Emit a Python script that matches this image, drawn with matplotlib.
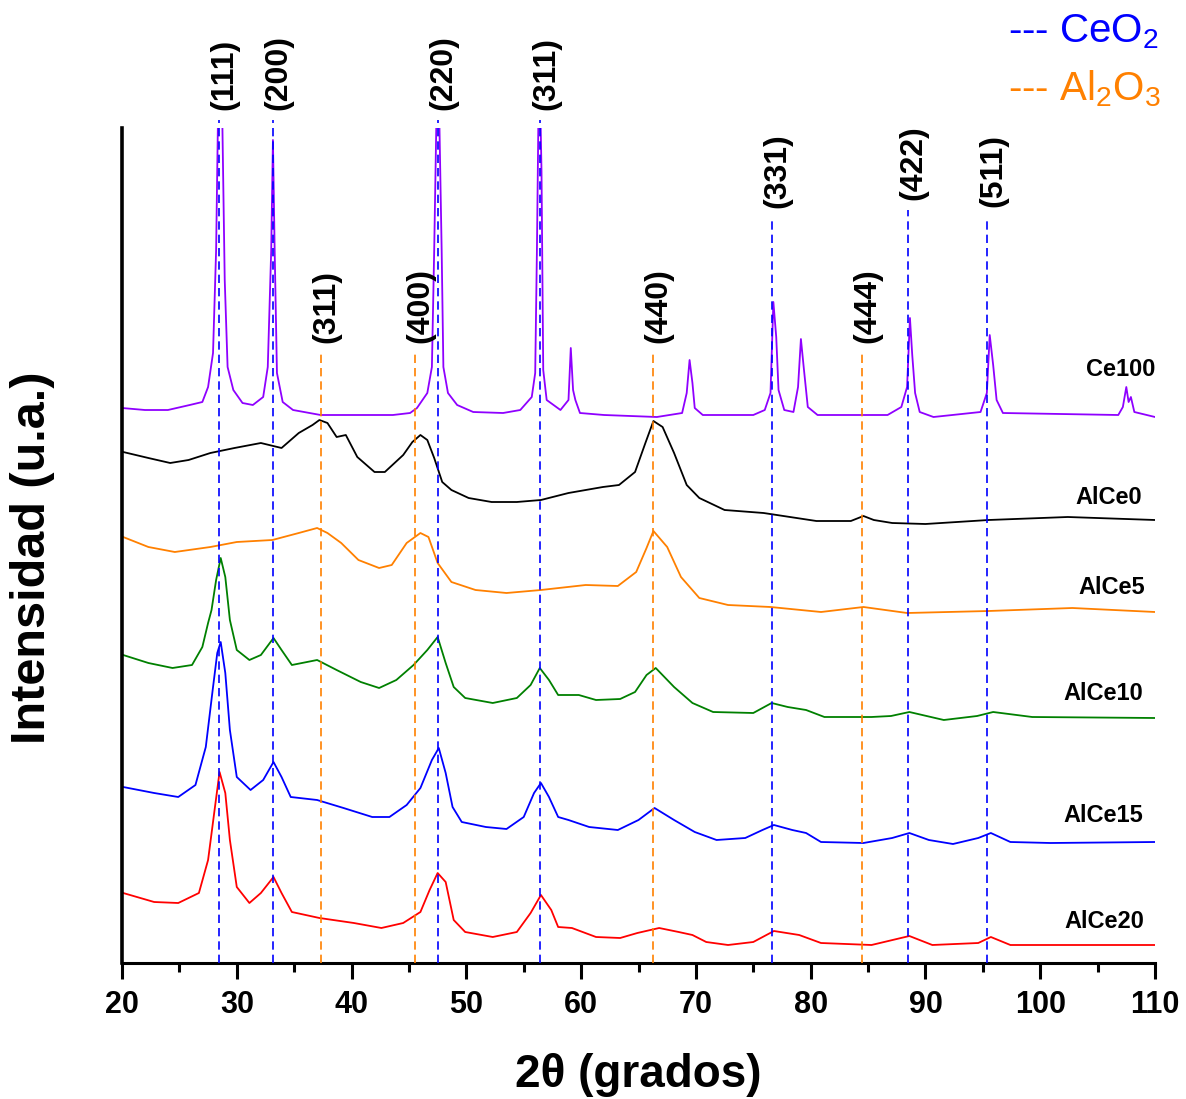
import matplotlib
matplotlib.use('Agg')
import matplotlib.pyplot as plt
from matplotlib.ticker import MultipleLocator

plt.rcParams['font.family'] = ['Liberation Sans', 'DejaVu Sans']
plt.rcParams['mathtext.fontset'] = 'custom'
plt.rcParams['mathtext.rm'] = 'Liberation Sans'
plt.rcParams['mathtext.it'] = 'Liberation Sans:italic'
plt.rcParams['mathtext.bf'] = 'Liberation Sans:bold'

# ---------------- data (2theta in degrees, intensity in a.u., stacked) ----------------
tt_ce100 = [20, 22, 24, 25.9, 27.0, 27.5, 27.93, 28.2, 28.35, 28.55, 28.75, 28.95, 29.2, 29.7,
            30.5, 31.4, 32.3, 32.7, 33.0, 33.15, 33.3, 33.5, 34.0, 34.9, 37.3, 40.0, 43.6, 45.1,
            45.7, 46.6, 47.0, 47.2, 47.38, 47.52, 47.66, 47.85, 48.0, 48.4, 49.2, 50.6, 53.2, 54.7,
            55.7, 56.0, 56.15, 56.27, 56.37, 56.48, 56.55, 56.7, 57.0, 58.2, 58.9, 59.1, 59.3, 59.5,
            59.9, 62.0, 66.6, 68.8, 69.2, 69.45, 69.7, 69.9, 70.6, 75.0, 76.0, 76.5, 76.75, 77.0,
            77.2, 77.7, 78.5, 78.9, 79.15, 79.4, 79.75, 80.6, 86.7, 87.9, 88.4, 88.65, 88.85, 89.1,
            89.5, 90.7, 94.8, 95.35, 95.6, 95.9, 96.2, 96.75, 106.8, 107.2, 107.5, 107.7, 107.9,
            108.2, 110]
i_ce100 = [555, 553, 553, 558, 561, 576, 610, 713, 835, 1100, 835, 683, 596, 573,
           560, 558, 566, 596, 713, 823, 713, 590, 561, 553, 548, 548, 548, 550,
           555, 570, 596, 713, 835, 1100, 835, 713, 596, 570, 558, 551, 550, 553,
           566, 590, 713, 835, 1000, 835, 791, 593, 563, 553, 563, 615, 573, 563,
           550, 548, 546, 550, 570, 603, 580, 555, 548, 548, 553, 570, 661, 626,
           573, 553, 551, 576, 624, 595, 556, 548, 548, 556, 576, 645, 608, 570,
           551, 546, 551, 570, 628, 598, 563, 550, 548, 556, 576, 561, 566,
           551, 546]

tt_alce0 = [20.1, 22.3, 24.2, 25.8, 27.7, 29.8, 32.1, 33.9, 35.4, 36.6, 37.2, 37.9, 38.7, 39.5,
            40.5, 42.0, 42.9, 44.5, 45.3, 46.0, 46.6, 47.2, 47.9, 48.7, 50.2, 52.2, 54.4, 56.5,
            58.9, 61.9, 63.3, 64.7, 65.6, 66.3, 67.1, 68.1, 69.2, 70.3, 72.5, 75.9, 80.5, 83.5,
            84.6, 85.5, 87.1, 90.0, 95.5, 102.4, 110]
i_alce0 = [511, 505, 500, 503, 510, 515, 520, 515, 530, 538, 543, 540, 526, 528,
           506, 491, 491, 508, 521, 528, 523, 505, 481, 473, 465, 461, 461, 463,
           470, 476, 478, 491, 520, 542, 536, 510, 478, 465, 453, 450, 442, 442,
           447, 443, 440, 439, 443, 446, 443]

tt_alce5 = [20.1, 22.3, 24.6, 27.7, 30.0, 33.1, 35.4, 37.0, 37.9, 39.1, 40.6, 42.4, 43.5, 44.8,
            46.0, 46.7, 47.5, 48.7, 50.8, 53.5, 56.5, 60.4, 63.2, 64.8, 65.7, 66.3, 67.5, 68.7,
            70.3, 72.8, 76.5, 80.9, 84.6, 88.4, 95.5, 102.8, 110]
i_alce5 = [426, 416, 411, 416, 421, 423, 430, 435, 430, 420, 403, 395, 398, 420,
           430, 426, 400, 381, 373, 370, 373, 378, 377, 391, 415, 432, 416, 386,
           365, 358, 356, 351, 356, 350, 352, 355, 351]

tt_alce10 = [20.1, 22.3, 24.4, 26.1, 27.0, 27.5, 27.8, 28.2, 28.6, 29.0, 29.4, 30.0, 31.1, 32.1,
             33.2, 33.9, 34.8, 37.0, 38.7, 40.8, 42.4, 43.9, 45.4, 46.6, 47.5, 48.2, 48.9, 49.9,
             52.3, 54.4, 55.6, 56.4, 57.2, 58.0, 59.8, 61.3, 63.4, 64.7, 65.7, 66.5, 68.1, 69.7,
             71.5, 75.0, 76.6, 78.0, 79.6, 81.2, 85.3, 87.0, 88.6, 91.6, 94.5, 95.9, 99.3, 110]
i_alce10 = [308, 300, 295, 298, 316, 340, 353, 383, 405, 386, 343, 313, 303, 308,
            325, 313, 298, 303, 293, 281, 275, 283, 298, 313, 326, 300, 276, 265,
            260, 265, 278, 295, 283, 268, 268, 263, 264, 271, 288, 295, 276, 260,
            251, 250, 260, 256, 253, 246, 246, 247, 251, 243, 247, 251, 246, 245]

tt_alce15 = [20.1, 22.8, 24.9, 26.4, 27.3, 27.9, 28.3, 28.6, 29.0, 29.4, 30.0, 31.2, 32.3, 33.2,
             33.9, 34.7, 37.0, 39.3, 41.8, 43.3, 44.8, 46.0, 47.0, 47.6, 48.2, 48.8, 49.6, 51.7,
             53.5, 55.0, 55.9, 56.5, 57.2, 58.0, 58.9, 60.7, 63.2, 65.0, 66.4, 68.1, 69.9, 71.8,
             74.3, 75.8, 76.8, 78.4, 79.6, 80.9, 84.6, 87.1, 88.6, 90.3, 92.4, 94.6, 95.7, 97.4,
             100.9, 110]
i_alce15 = [176, 170, 166, 178, 216, 273, 310, 321, 290, 233, 186, 173, 183, 201,
            186, 166, 163, 155, 146, 146, 158, 175, 203, 215, 190, 156, 141, 136,
            134, 146, 170, 180, 166, 146, 143, 136, 133, 143, 155, 143, 131, 123,
            125, 133, 138, 133, 130, 121, 120, 125, 130, 123, 119, 125, 130, 121,
            120, 121]

tt_alce20 = [20.1, 22.8, 24.9, 26.7, 27.5, 28.1, 28.5, 29.0, 29.4, 30.0, 31.1, 32.1, 33.2, 33.9,
             34.8, 37.2, 40.2, 42.6, 44.5, 46.0, 46.8, 47.5, 48.2, 48.9, 49.9, 52.3, 54.4, 55.6,
             56.5, 57.4, 58.0, 59.2, 61.3, 63.4, 64.9, 66.8, 68.5, 69.7, 70.9, 72.8, 75.0, 76.8,
             79.0, 80.9, 85.3, 88.6, 90.6, 94.6, 95.7, 97.4, 104.0, 110]
i_alce20 = [70, 61, 60, 70, 103, 156, 191, 170, 123, 76, 60, 70, 86, 70,
            51, 45, 40, 35, 40, 51, 73, 90, 81, 43, 31, 26, 31, 50,
            68, 53, 36, 35, 26, 25, 30, 35, 31, 28, 21, 18, 21, 32,
            28, 20, 18, 27, 18, 20, 26, 18, 18, 18]

series_names = ['Ce100', 'AlCe0', 'AlCe5', 'AlCe10', 'AlCe15', 'AlCe20']

# reference reflections
ceo2_pos = [28.45, 33.16, 47.55, 56.45, 76.6, 88.5, 95.4]
ceo2_hkl = ['(111)', '(200)', '(220)', '(311)', '(331)', '(422)', '(511)']
al2o3_pos = [37.34, 45.53, 66.26, 84.47]
al2o3_hkl = ['(311)', '(400)', '(440)', '(444)']

# ---------------- figure ----------------
W, H = 1186, 1099
fig = plt.figure(figsize=(W / 100, H / 100), dpi=100)
ax = fig.add_axes([122 / W, 136 / H, 1033 / W, 835 / H])

xs = [tt_ce100, tt_alce0, tt_alce5, tt_alce10, tt_alce15, tt_alce20]
ys = [i_ce100, i_alce0, i_alce5, i_alce10, i_alce15, i_alce20]
colors = ['#8F00FF', '#000000', '#FF8000', '#008000', '#0000FF', '#FF0000']
label_y = [594, 466, 376, 269, 147, 41]
label_x = [110.0, 108.9, 109.1, 109.0, 109.0, 109.1]

for x, y, c in zip(xs, ys, colors):
    ax.plot(x, y, color=c, lw=1.3, zorder=2, solid_joinstyle='round')

for name, lx, ly in zip(series_names, label_x, label_y):
    ax.text(lx, ly, name, ha='right', va='center', fontsize=17, fontweight='bold', zorder=5)

# dashed reference lines
ceo2_top = [843, 843, 843, 843, 745, 753, 746]
for pos, hkl, top in zip(ceo2_pos, ceo2_hkl, ceo2_top):
    ax.plot([pos, pos], [0, top], color='#0000FF', lw=1.2, dashes=(5, 3), zorder=3, clip_on=False)
    ax.annotate(hkl, xy=(pos, top), xytext=(4, 7), textcoords='offset points',
                rotation=90, ha='center', va='bottom', fontsize=23, fontweight='bold',
                annotation_clip=False)
for pos, hkl in zip(al2o3_pos, al2o3_hkl):
    top = 610
    ax.plot([pos, pos], [0, top], color='#FF8000', lw=1.2, dashes=(5, 3), zorder=3, clip_on=False)
    ax.annotate(hkl, xy=(pos, top), xytext=(4, 7), textcoords='offset points',
                rotation=90, ha='center', va='bottom', fontsize=23, fontweight='bold',
                annotation_clip=False)

ax.set_xlim(20, 110)
ax.set_ylim(0, 835)
ax.set_yticks([])
ax.xaxis.set_major_locator(MultipleLocator(10))
ax.xaxis.set_minor_locator(MultipleLocator(5))
ax.tick_params(axis='x', which='major', direction='out', length=11.5, width=2.2,
               labelsize=22, pad=8)
ax.tick_params(axis='x', which='minor', direction='out', length=6.5, width=2.2)
for lab in ax.get_xticklabels():
    lab.set_fontweight('bold')
for s in ['top', 'right']:
    ax.spines[s].set_visible(False)
ax.spines['left'].set_linewidth(2.6)
ax.spines['bottom'].set_linewidth(2.2)

fig.text(638.5 / W, 1 - 1075 / H, '2θ (grados)', ha='center', va='center',
         fontsize=33, fontweight='bold')
fig.text(33 / W, 1 - 558 / H, 'Intensidad (u.a.)', ha='center', va='center',
         rotation=90, fontsize=35, fontweight='bold')

# legend
fig.text(1008 / W, 1 - 42 / H, r'--- CeO$_2$', color='#0000FF', fontsize=29,
         ha='left', va='baseline')
fig.text(1008 / W, 1 - 100 / H, r'--- Al$_2$O$_3$', color='#FF8000', fontsize=29,
         ha='left', va='baseline')

fig.savefig('out.png', dpi=100)
